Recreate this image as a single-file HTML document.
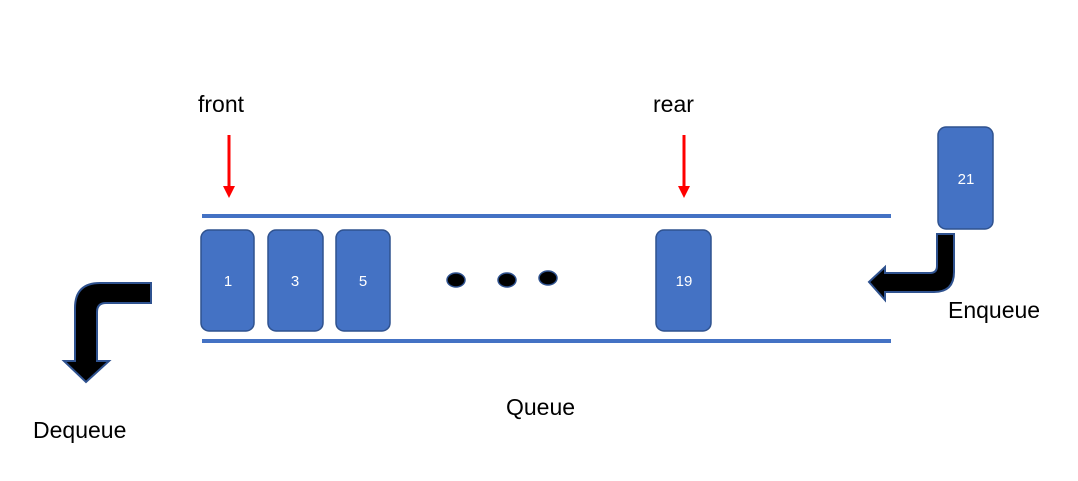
<!DOCTYPE html>
<html><head><style>body{margin:0;background:#fff}svg{display:block}text{font-family:"Liberation Sans",sans-serif}</style></head><body>
<svg width="1078" height="481" viewBox="0 0 1078 481">
<line x1="202" y1="216" x2="891" y2="216" stroke="#4472C4" stroke-width="4"/>
<line x1="202" y1="341" x2="891" y2="341" stroke="#4472C4" stroke-width="4"/>
<g fill="#4472C4" stroke="#2F528F" stroke-width="1.5">
<rect x="201" y="230" width="53" height="101" rx="8"/>
<rect x="268" y="230" width="55" height="101" rx="8"/>
<rect x="336" y="230" width="54" height="101" rx="8"/>
<rect x="656" y="230" width="55" height="101" rx="8"/>
<rect x="938" y="127" width="55" height="102" rx="8"/>
</g>
<g fill="#fff" font-size="15" text-anchor="middle">
<text x="228" y="286">1</text><text x="295" y="286">3</text><text x="363" y="286">5</text><text x="684" y="286">19</text><text x="966" y="184">21</text>
</g>
<g fill="#000" stroke="#2F528F" stroke-width="1.5">
<ellipse cx="456" cy="280" rx="9" ry="7"/><ellipse cx="507" cy="280" rx="9" ry="7"/><ellipse cx="548" cy="278" rx="9" ry="7"/>
<path d="M151,283 L100,283 Q75,283 75,308 L75,361 L64,361 L86,382 L109,361 L97,361 L97,312 Q97,303 106,303 L151,303 Z" stroke-width="2"/>
<path d="M937,234 L954,234 L954,272 Q954,292 934,292 L885,292 L885,300 L869,282 L885,267 L885,273 L930,273 Q937,273 937,266 Z" stroke-width="2"/>
</g>
<g stroke="#f00" stroke-width="3" fill="#f00">
<line x1="229" y1="135" x2="229" y2="188"/><path d="M223,186 L235,186 L229,198 Z" stroke="none"/>
<line x1="684" y1="135" x2="684" y2="188"/><path d="M678,186 L690,186 L684,198 Z" stroke="none"/>
</g>
<g fill="#000" font-size="23">
<text x="198" y="112">front</text>
<text x="653" y="112">rear</text>
<text x="948" y="318">Enqueue</text>
<text x="33" y="438">Dequeue</text>
<text x="506" y="415">Queue</text>
</g>
</svg>
</body></html>
